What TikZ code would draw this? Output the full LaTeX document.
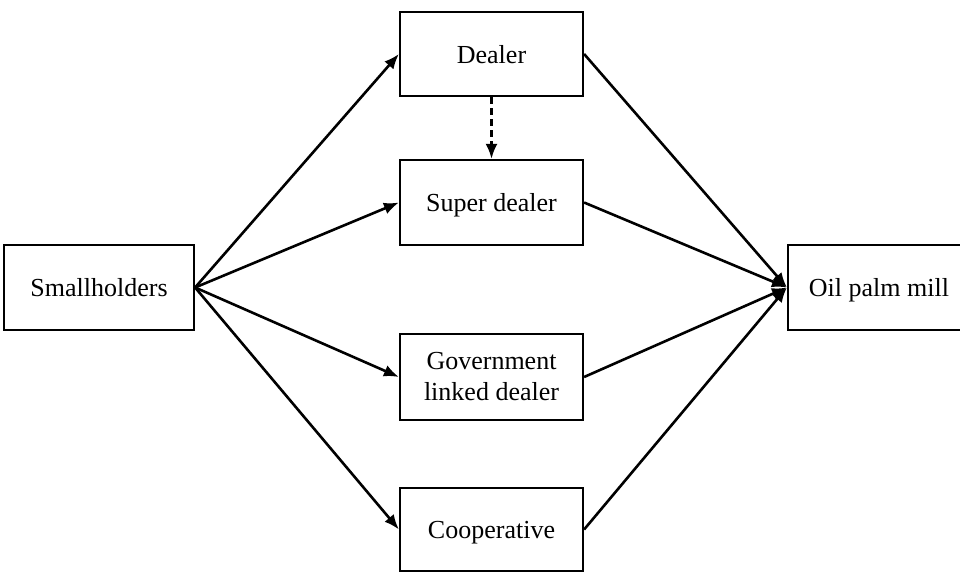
\documentclass[tikz,border=0pt]{standalone}
\usepackage{fontspec}
\setmainfont{Liberation Serif}
\usetikzlibrary{arrows.meta}
\begin{document}
\begin{tikzpicture}[x=1pt,y=-1pt,
  box/.style={draw,line width=2.2pt,rectangle,minimum width=183pt,inner sep=0pt,align=center,
    font=\fontsize{26}{31}\selectfont},
  one/.style={text depth=0pt},
  conn/.style={line width=2.6pt,-{Latex[length=15pt,width=12pt]}},
  dconn/.style={line width=2.6pt,dash pattern=on 7pt off 4pt,-{Latex[length=15pt,width=12pt]}}]
\useasboundingbox (0,0) rectangle (960,572);
\node[box,one,minimum width=190pt,minimum height=85pt] (sh) at (99,287.5) {Smallholders};
\node[box,one,minimum height=84pt] (dl) at (491.5,54) {Dealer};
\node[box,one,minimum height=85pt] (sd) at (491.5,202.5) {Super dealer};
\node[box,minimum height=86pt] (gl) at (491.5,377) {Government\\linked dealer};
\node[box,one,minimum height=83pt] (co) at (491.5,529.5) {Cooperative};
\node[box,one,minimum width=182pt,minimum height=85pt] (om) at (879,287.5) {Oil palm mill};
\draw[conn] (sh.east) -- (dl.west);
\draw[conn] (sh.east) -- (sd.west);
\draw[conn] (sh.east) -- (gl.west);
\draw[conn] (sh.east) -- (co.west);
\draw[conn] (dl.east) -- (om.west);
\draw[conn] (sd.east) -- (om.west);
\draw[conn] (gl.east) -- (om.west);
\draw[conn] (co.east) -- (om.west);
\draw[dconn] (dl.south) -- (sd.north);
\end{tikzpicture}
\end{document}
